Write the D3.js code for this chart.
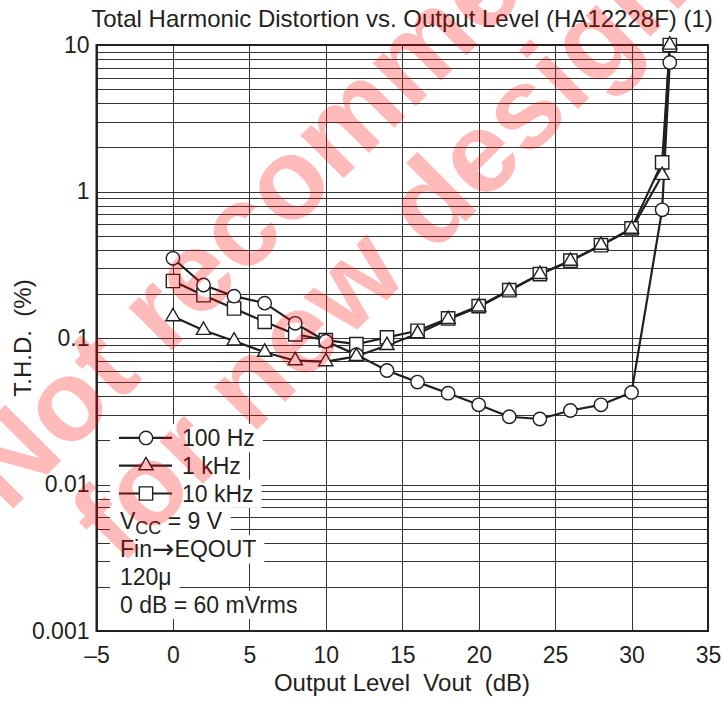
<!DOCTYPE html>
<html>
<head>
<meta charset="utf-8">
<script src="https://cdn.jsdelivr.net/npm/d3@7"></script>
<style>
body { margin: 0; background: #fff; }
svg { display: block; font-family: "Liberation Sans", Arial, sans-serif; }
</style>
</head>
<body>
<svg id="chart" width="723" height="702"></svg>
<script>
// Output level (dB) at which each point was measured
var levels = [0, 2, 4, 6, 8, 10, 12, 14, 16, 18, 20, 22, 24, 26, 28, 30, 32, 32.5];
// T.H.D. (%)
var thd100 = [0.35, 0.23, 0.193, 0.173, 0.126, 0.095, 0.077, 0.060, 0.050, 0.042, 0.035, 0.029, 0.028, 0.032, 0.035, 0.0425, 0.75, 7.6];
var thd1k = [0.14, 0.113, 0.0955, 0.080, 0.070, 0.069, 0.075, 0.089, 0.107, 0.134, 0.163, 0.21, 0.272, 0.335, 0.43, 0.553, 1.29, 10];
var thd10k = [0.245, 0.196, 0.159, 0.129, 0.106, 0.0966, 0.0907, 0.101, 0.112, 0.136, 0.165, 0.212, 0.273, 0.337, 0.43, 0.56, 1.58, 10];

var seriesNames = ["100 Hz", "1 kHz", "10 kHz"];
var noteLines = ["VCC = 9 V", "Fin\u2192EQOUT", "120\u03bc", "0 dB = 60 mVrms"];
var xTickValues = [-5, 0, 5, 10, 15, 20, 25, 30, 35];
var xTickLabels = ["\u20135", "0", "5", "10", "15", "20", "25", "30", "35"];
var yTickValues = [0.001, 0.01, 0.1, 1, 10];
var yTickLabels = ["0.001", "0.01", "0.1", "1", "10"];
var title = "Total Harmonic Distortion vs. Output Level (HA12228F) (1)";
var xTitle = "Output Level  Vout  (dB)";
var yTitle = "T.H.D.  (%)";
var watermark = ["Not recommended", "for new designs"];

var ink = "#231f20";
var svg = d3.select("#chart");

var x = d3.scaleLinear().domain([-5, 35]).range([96.5, 708]);
var y = d3.scaleLog().domain([0.001, 10]).range([631, 45]);

// grid
var grid = svg.append("g").attr("stroke", "#333").attr("stroke-width", 1).attr("fill", "none");
grid.selectAll(".h").data(y.ticks()).enter().append("line")
  .attr("x1", x(-5)).attr("x2", x(35))
  .attr("y1", function(d) { return Math.round(y(d)) + 0.5; })
  .attr("y2", function(d) { return Math.round(y(d)) + 0.5; });
grid.selectAll(".v").data(x.ticks(8)).enter().append("line")
  .attr("y1", y(10)).attr("y2", y(0.001))
  .attr("x1", function(d) { return Math.round(x(d)) + 0.5; })
  .attr("x2", function(d) { return Math.round(x(d)) + 0.5; });

// legend block: white box behind every row
var rows = seriesNames.concat(noteLines);
var rowTop = 424, rowH = 27.8;
var legend = svg.append("g");
var boxes = legend.append("g");
var texts = legend.append("g").attr("fill", ink).attr("font-size", 23);

rows.forEach(function(r, i) {
  var cy = rowTop + rowH * (i + 0.5);
  var t = texts.append("text").attr("x", i < 3 ? 182 : 120).attr("y", cy + 8);
  if (r.indexOf("VCC") === 0) {
    t.append("tspan").text("V");
    t.append("tspan").text("CC").attr("font-size", 18).attr("dy", 5);
    t.append("tspan").text(r.slice(3)).attr("dy", -5);
  } else if (r.indexOf("\u2192") > 0) {
    var parts = r.split("\u2192");
    t.append("tspan").text(parts[0]);
    t.append("tspan").text("\u2192").attr("font-family", "DejaVu Sans").attr("font-size", 27).attr("dy", 1);
    t.append("tspan").text(parts[1]).attr("dy", -1);
  } else {
    t.text(r);
  }
  var bb = t.node().getBBox();
  boxes.append("rect")
    .attr("x", 110).attr("y", rowTop + rowH * i)
    .attr("width", bb.x + bb.width + 8 - 110).attr("height", rowH + 0.5)
    .attr("fill", "#fff");
});

// frame
svg.append("rect")
  .attr("x", x(-5)).attr("y", y(10))
  .attr("width", x(35) - x(-5)).attr("height", y(0.001) - y(10))
  .attr("fill", "none").attr("stroke", ink).attr("stroke-width", 2);

// curves
var series = [
  { name: seriesNames[0], values: thd100, shape: "circle" },
  { name: seriesNames[1], values: thd1k, shape: "triangle" },
  { name: seriesNames[2], values: thd10k, shape: "square" }
];
var line = d3.line().x(function(d, i) { return x(levels[i]); }).y(function(d) { return y(d); });
svg.append("g").selectAll("path").data(series).enter().append("path")
  .attr("d", function(s) { return line(s.values); })
  .attr("fill", "none").attr("stroke", ink).attr("stroke-width", 2.2).attr("stroke-linejoin", "round");

var shapes = {
  circle: d3.symbol().type(d3.symbolCircle).size(Math.PI * 6.7 * 6.7),
  triangle: d3.symbol().type(d3.symbolTriangle).size(88),
  square: d3.symbol().type(d3.symbolSquare).size(13.3 * 13.3)
};
function drawMarker(g, s, px, py) {
  g.append("path")
    .attr("d", shapes[s.shape]())
    .attr("transform", "translate(" + px + "," + py + ")")
    .attr("fill", "#fff").attr("stroke", ink).attr("stroke-width", 1.4);
}
var marks = svg.append("g");
[series[2], series[0], series[1]].forEach(function(s) {
  s.values.forEach(function(v, i) { drawMarker(marks, s, x(levels[i]), y(v)); });
});

// legend symbols
series.forEach(function(s, i) {
  var cy = rowTop + rowH * (i + 0.5);
  legend.append("line").attr("x1", 119).attr("x2", 172).attr("y1", cy).attr("y2", cy)
    .attr("stroke", ink).attr("stroke-width", 2.2);
  drawMarker(legend, s, 146, cy);
});

// axes
var yAxis = svg.append("g")
  .attr("transform", "translate(" + x(-5) + ",0)")
  .call(d3.axisLeft(y).tickValues(yTickValues).tickSize(0).tickPadding(7)
    .tickFormat(function(d, i) { return yTickLabels[i]; }));
var xAxis = svg.append("g")
  .attr("transform", "translate(0," + y(0.001) + ")")
  .call(d3.axisBottom(x).tickValues(xTickValues).tickSize(0).tickPadding(16)
    .tickFormat(function(d, i) { return xTickLabels[i]; }));
[yAxis, xAxis].forEach(function(a) {
  a.select(".domain").remove();
  a.attr("font-family", null).attr("font-size", 23);
  a.selectAll("text").attr("fill", ink);
});

// titles
svg.append("text").attr("x", 402).attr("y", 27).attr("text-anchor", "middle")
  .attr("font-size", 24).attr("fill", ink).text(title);
svg.append("text").attr("x", 402).attr("y", 691).attr("text-anchor", "middle")
  .attr("font-size", 24).attr("fill", ink).style("white-space", "pre").text(xTitle);
svg.append("text").attr("transform", "translate(31,338) rotate(-90)").attr("text-anchor", "middle")
  .attr("font-size", 24).attr("fill", ink).style("white-space", "pre").text(yTitle);

// watermark over everything
var wm = svg.append("g").attr("fill", "#ff0000").attr("fill-opacity", 0.27)
  .attr("font-weight", "bold").attr("font-size", 115).attr("text-anchor", "middle");
wm.append("text").attr("transform", "translate(365,157) rotate(-45)").text(watermark[0]);
wm.append("text").attr("transform", "translate(430,257) rotate(-45)").text(watermark[1]);
</script>
</body>
</html>
